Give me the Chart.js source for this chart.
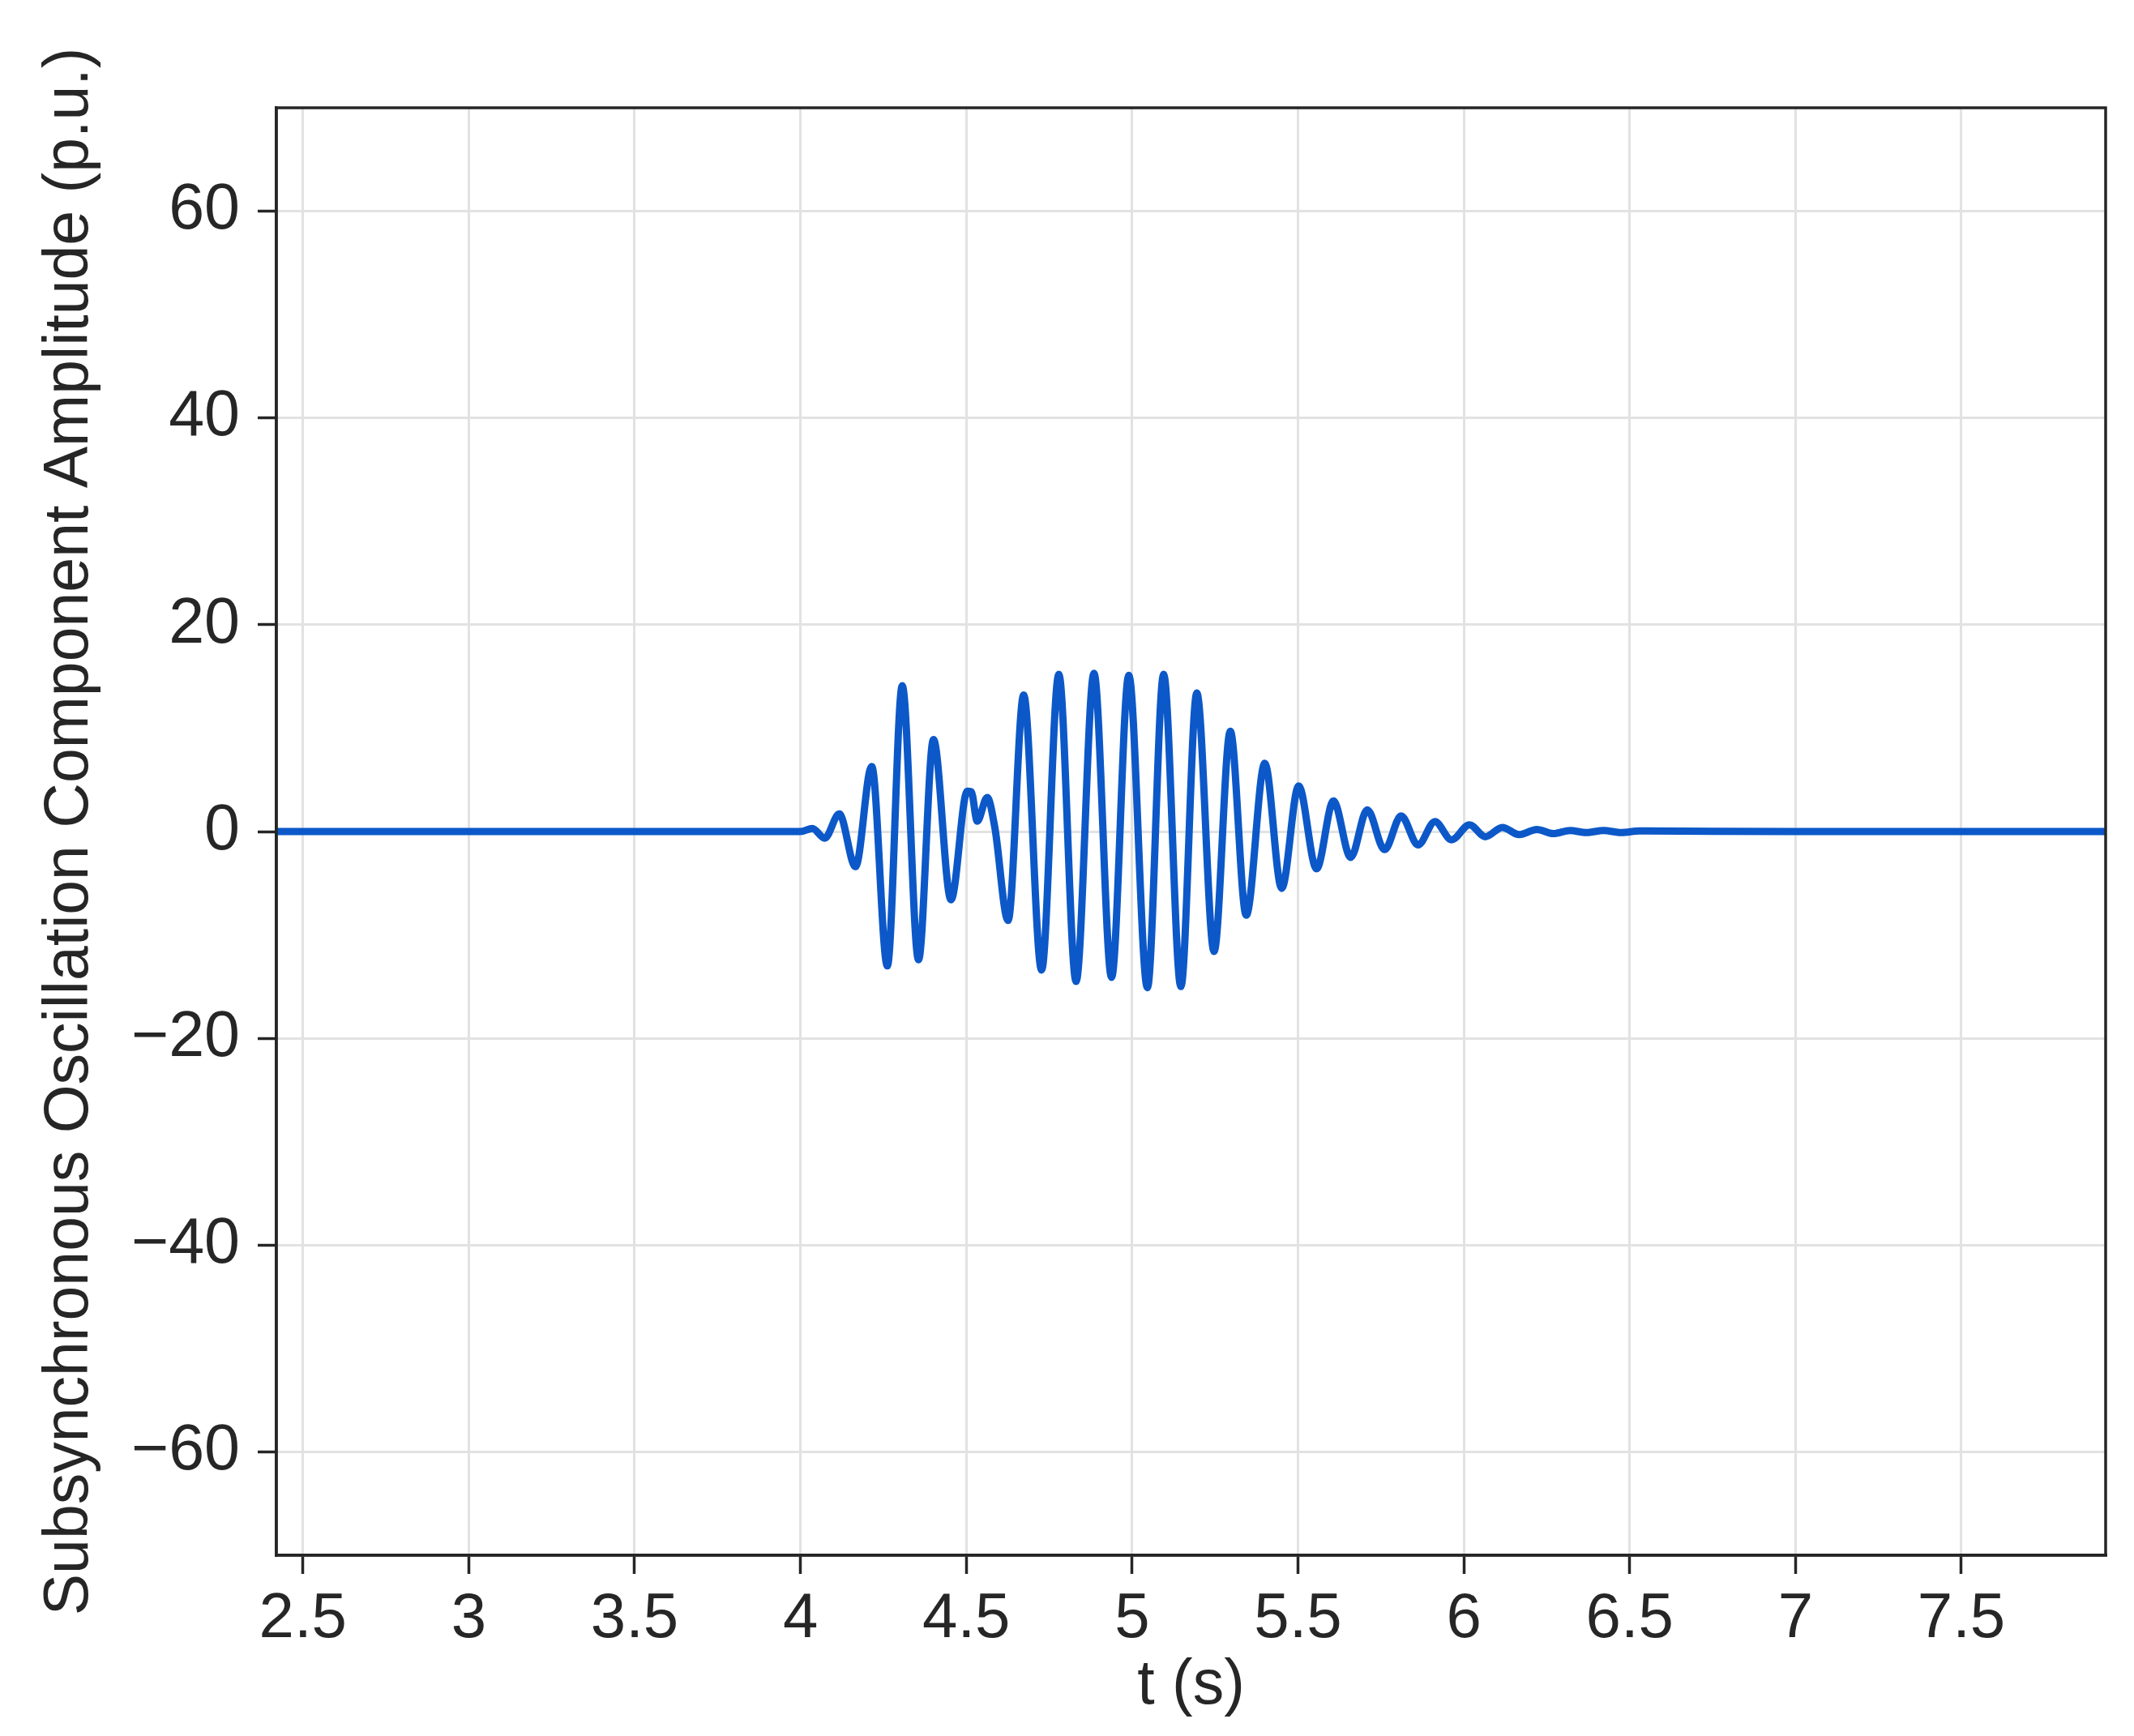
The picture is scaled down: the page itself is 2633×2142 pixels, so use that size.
<!DOCTYPE html>
<html>
<head>
<meta charset="utf-8">
<script src="https://cdn.jsdelivr.net/npm/chart.js@4/dist/chart.umd.min.js"></script>
<style>
html,body{margin:0;padding:0;background:#ffffff;}
#wrap{width:2633px;height:2142px;}
</style>
</head>
<body>
<div id="wrap"><canvas id="c" width="2633" height="2142"></canvas></div>
<script>
// ---- data ----
const times = [2.42, 3.0, 3.5, 4.0, 4.036, 4.073, 4.117, 4.166, 4.215, 4.262, 4.307, 4.356, 4.401, 4.454,
  4.503, 4.515, 4.533, 4.563, 4.586, 4.626, 4.673, 4.727, 4.779, 4.831, 4.885, 4.938, 4.99, 5.046, 5.095,
  5.147, 5.195, 5.247, 5.296, 5.344, 5.40, 5.451, 5.502, 5.556, 5.607, 5.659, 5.709, 5.761, 5.811, 5.862,
  5.913, 5.963, 6.017, 6.065, 6.116, 6.167, 6.22, 6.27, 6.32, 6.369, 6.421, 6.475, 6.53, 7.0, 7.935];
const amplitudes = [0, 0, 0, 0, 0.3, -0.65, 1.7, -3.4, 6.3, -13.0, 14.1, -12.4, 8.9, -6.6,
  3.9, 3.85, 1.0, 3.3, 0.4, -8.6, 13.2, -13.4, 15.2, -14.5, 15.3, -14.1, 15.1, -15.1, 15.2,
  -15.0, 13.4, -11.6, 9.7, -8.1, 6.6, -5.5, 4.4, -3.6, 2.95, -2.5, 2.1, -1.75, 1.5, -1.3,
  0.96, -0.8, 0.65, -0.5, 0.4, -0.3, 0.2, -0.2, 0.1, -0.1, 0.1, -0.1, 0.05, 0, 0];
const xTickValues = [2.5, 3, 3.5, 4, 4.5, 5, 5.5, 6, 6.5, 7, 7.5];
const yTickValues = [-60, -40, -20, 0, 20, 40, 60];
const xRange = [2.42, 7.935];
const yRange = [-70, 70];
const xTitle = 't (s)';
const yTitle = 'Subsynchronous Oscillation Component Amplitude (p.u.)';

// ---- styling ----
const INK = '#262626';
const GRID = '#e2e2e2';
const LINE = '#0c58c8';
const FONT = "'Liberation Sans', Arial, sans-serif";

const points = times.map((t, i) => ({x: t, y: amplitudes[i]}));
const fmt = v => String(v).replace('-', '\u2212');

const framePlugin = {
  id: 'frame',
  afterDatasetsDraw(chart) {
    const {ctx, chartArea: a} = chart;
    ctx.save();
    ctx.strokeStyle = INK;
    ctx.lineWidth = 3.5;
    ctx.strokeRect(a.left, a.top, a.right - a.left, a.bottom - a.top);
    ctx.restore();
  }
};

Chart.defaults.font.family = FONT;
Chart.defaults.color = INK;

new Chart(document.getElementById('c'), {
  type: 'line',
  data: {
    datasets: [{
      data: points,
      borderColor: LINE,
      borderWidth: 9,
      pointRadius: 0,
      fill: false,
      cubicInterpolationMode: 'monotone'
    }]
  },
  options: {
    responsive: false,
    animation: false,
    layout: {padding: {top: 133, right: 35, left: 0, bottom: 0}},
    plugins: {legend: {display: false}, tooltip: {enabled: false}},
    scales: {
      x: {
        type: 'linear',
        min: xRange[0], max: xRange[1],
        afterBuildTicks: s => { s.ticks = xTickValues.map(v => ({value: v})); },
        afterFit: s => { s.height = 223; },
        grid: {color: GRID, lineWidth: 3, tickColor: INK, tickWidth: 3.5, tickLength: 23},
        border: {display: true, color: INK, width: 3.5},
        ticks: {font: {size: 78}, color: INK, padding: 10, maxRotation: 0, autoSkip: false, callback: v => fmt(v)},
        title: {display: true, text: xTitle, font: {size: 77}, color: INK, padding: {top: 0, bottom: 15}}
      },
      y: {
        type: 'linear',
        min: yRange[0], max: yRange[1],
        afterBuildTicks: s => { s.ticks = yTickValues.map(v => ({value: v})); },
        afterFit: s => { s.width = 341; },
        grid: {color: GRID, lineWidth: 3, tickColor: INK, tickWidth: 3.5, tickLength: 23},
        border: {display: true, color: INK, width: 3.5},
        ticks: {font: {size: 79}, color: INK, padding: 22, autoSkip: false, callback: v => fmt(v)},
        title: {display: true, text: yTitle, font: {size: 77}, color: INK, padding: {top: 41, bottom: 0}}
      }
    }
  },
  plugins: [framePlugin]
});
</script>
</body>
</html>
